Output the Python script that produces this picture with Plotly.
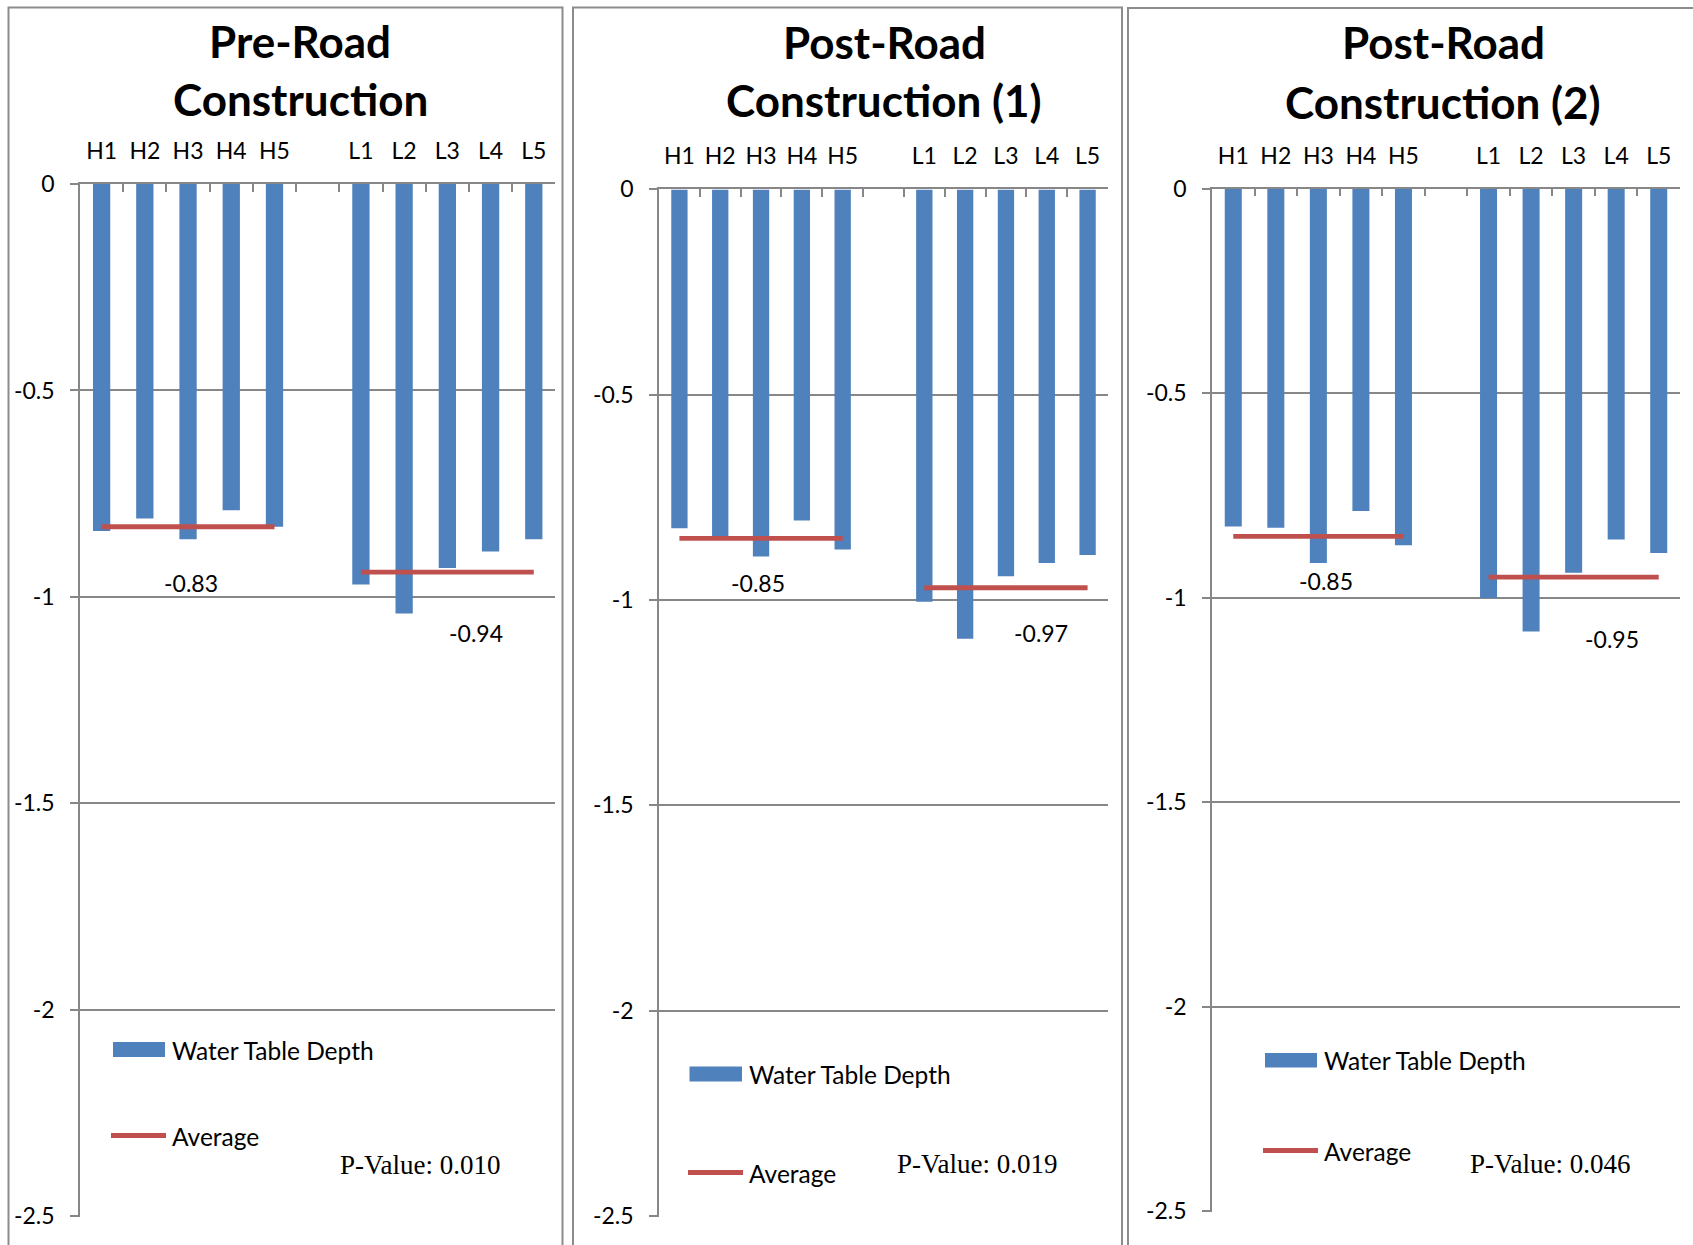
import plotly.graph_objects as go

# ---- data -------------------------------------------------------------
high_sites = ["H1", "H2", "H3", "H4", "H5"]
low_sites = ["L1", "L2", "L3", "L4", "L5"]
gap = " "  # empty slot between the two site groups
axis_categories = high_sites + [gap] + low_sites

panel_titles = [
    ("Pre-Road", "Construction"),
    ("Post-Road", "Construction (1)"),
    ("Post-Road", "Construction (2)"),
]

# water table depth (m) per site, H1..H5 then L1..L5
depth_pre = [-0.84, -0.81, -0.86, -0.79, -0.83, -0.97, -1.04, -0.93, -0.89, -0.86]
depth_post1 = [-0.825, -0.845, -0.894, -0.806, -0.877, -1.004, -1.094, -0.942, -0.910, -0.890]
depth_post2 = [-0.826, -0.829, -0.915, -0.788, -0.872, -1.001, -1.083, -0.939, -0.858, -0.891]
depth_series = [depth_pre, depth_post1, depth_post2]

# group averages (high group, low group)
avg_pre = [-0.83, -0.94]
avg_post1 = [-0.85, -0.97]
avg_post2 = [-0.85, -0.95]
avg_series = [avg_pre, avg_post1, avg_post2]

p_values = ["0.010", "0.019", "0.046"]

y_tick_values = [0, -0.5, -1, -1.5, -2, -2.5]
y_tick_labels = ["0", "-0.5", "-1", "-1.5", "-2", "-2.5"]

# ---- page geometry (pixels) -------------------------------------------
W, H = 1693, 1245
BLUE = "#4F81BD"
RED = "#C0504D"
GREY = "#878787"
FONT = "Lato"


def px(x):
    return x / W


def py(y):
    return 1 - y / H


panels = [
    dict(plot=(80, 555.4, 184, 1217), border=(8.5, 562.5, 7.5),
         title_x=300, title_y=(41, 99),
         labels=[(2.06, -0.965), (8.67, -1.088)],
         swatch=(113, 165, 1042, 1057), line=(111, 166, 1135.5),
         text_x=170, text_y=(1050, 1136), pval=(420, 1165)),
    dict(plot=(659, 1108, 189.4, 1216.7), border=(573, 1122, 7.5),
         title_x=884, title_y=(42, 100),
         labels=[(1.92, -0.958), (8.86, -1.081)],
         swatch=(689.5, 742, 1066.5, 1081.5), line=(688, 743, 1172.5),
         text_x=747, text_y=(1074, 1173), pval=(977, 1164)),
    dict(plot=(1212, 1680, 188.5, 1212), border=(1128, 1710, 8),
         title_x=1443, title_y=(42, 102),
         labels=[(2.19, -0.96), (8.9, -1.102)],
         swatch=(1265, 1317, 1053, 1067.5), line=(1263, 1318, 1150.5),
         text_x=1322, text_y=(1060, 1151), pval=(1550, 1164)),
]

fig = go.Figure()
shapes = []
annotations = []
layout_axes = {}

for i, (p, depths, avgs, pv, title) in enumerate(
        zip(panels, depth_series, avg_series, p_values, panel_titles)):
    n = "" if i == 0 else str(i + 1)
    xa, ya = "x" + n, "y" + n

    # bars
    fig.add_trace(go.Bar(
        x=high_sites + low_sites, y=depths, xaxis=xa, yaxis=ya,
        marker=dict(color=BLUE, line=dict(width=0)), width=0.4,
        showlegend=False, hoverinfo="skip"))

    # average lines across each group, labelled below
    for sites, avg, (lx, ly) in zip([high_sites, low_sites], avgs, p["labels"]):
        fig.add_trace(go.Scatter(
            x=[sites[0], sites[-1]], y=[avg, avg], xaxis=xa, yaxis=ya,
            mode="lines", line=dict(color=RED, width=4.8),
            showlegend=False, hoverinfo="skip"))
        annotations.append(dict(
            x=lx, y=ly, xref=xa, yref=ya, text=f"{avg:.2f}",
            showarrow=False, font=dict(family=FONT, size=23, color="black")))

    x0, x1, y0, y1 = p["plot"]
    layout_axes["xaxis" + n] = dict(
        domain=[px(x0), px(x1)], anchor=ya, side="top", type="category",
        categoryorder="array", categoryarray=axis_categories,
        range=[-0.5, 10.5], tickson="boundaries", ticks="inside", ticklen=8,
        tickwidth=1.5, tickcolor=GREY, showline=True, linecolor=GREY,
        linewidth=1.5, showgrid=False, ticklabelstandoff=14, automargin=False,
        tickfont=dict(family=FONT, size=23, color="black"), fixedrange=True)
    layout_axes["yaxis" + n] = dict(
        domain=[py(y1), py(y0)], anchor=xa, range=[-2.5015, 0],
        tickmode="array", tickvals=y_tick_values, ticktext=y_tick_labels,
        ticks="outside", ticklen=8, tickwidth=1.5, tickcolor=GREY,
        showline=True, linecolor=GREY, linewidth=1.5,
        showgrid=True, gridcolor=GREY, gridwidth=1.5, zeroline=False,
        ticklabelstandoff=11, automargin=False,
        tickfont=dict(family=FONT, size=23, color="black"), fixedrange=True)

    # panel frame
    bx0, bx1, by0 = p["border"]
    shapes.append(dict(type="rect", xref="paper", yref="paper",
                       x0=px(bx0), x1=px(bx1), y0=py(H + 30), y1=py(by0),
                       line=dict(color="#8C8C8C", width=2),
                       fillcolor="rgba(0,0,0,0)", layer="below"))

    # title (two lines)
    for line_text, ty in zip(title, p["title_y"]):
        annotations.append(dict(
            x=px(p["title_x"]), y=py(ty), xref="paper", yref="paper",
            text=line_text, showarrow=False, xanchor="center", yanchor="middle",
            font=dict(family=FONT, size=44, color="black", weight="bold")))

    # legend
    sx0, sx1, sy0, sy1 = p["swatch"]
    shapes.append(dict(type="rect", xref="paper", yref="paper",
                       x0=px(sx0), x1=px(sx1), y0=py(sy1), y1=py(sy0),
                       fillcolor=BLUE, line=dict(width=0)))
    lx0, lx1, ly = p["line"]
    shapes.append(dict(type="line", xref="paper", yref="paper",
                       x0=px(lx0), x1=px(lx1), y0=py(ly), y1=py(ly),
                       line=dict(color=RED, width=4.8)))
    for txt, ty in zip(["Water Table Depth", "Average"], p["text_y"]):
        annotations.append(dict(
            x=px(p["text_x"]), y=py(ty), xref="paper", yref="paper",
            text=txt, showarrow=False, xanchor="left", yanchor="middle",
            font=dict(family=FONT, size=24.5, color="black")))

    # significance note
    annotations.append(dict(
        x=px(p["pval"][0]), y=py(p["pval"][1]), xref="paper", yref="paper",
        text=f"P-Value: {pv}", showarrow=False, xanchor="center",
        yanchor="middle",
        font=dict(family="Liberation Serif", size=27, color="black")))

fig.update_layout(
    width=W, height=H,
    margin=dict(l=0, r=0, t=0, b=0, pad=0, autoexpand=False),
    paper_bgcolor="white", plot_bgcolor="white",
    bargap=0.6, showlegend=False,
    shapes=shapes, annotations=annotations, **layout_axes)

fig.write_html("out.html", config={"displayModeBar": False})
